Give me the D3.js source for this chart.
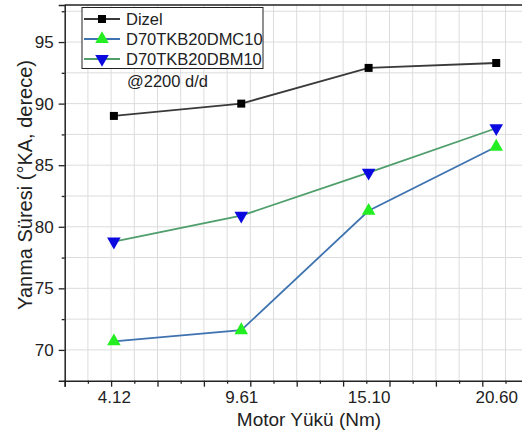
<!DOCTYPE html>
<html>
<head>
<meta charset="utf-8">
<script src="https://cdn.jsdelivr.net/npm/d3@7"></script>
<style>
body { margin: 0; background: #fff; }
svg { display: block; font-family: "Liberation Sans", Arial, sans-serif; }
</style>
</head>
<body>
<div id="chart"></div>
<script>
// Yanma suresi vs motor yuku @2200 d/d
var loads = [4.12, 9.61, 15.10, 20.60];
var loadLabels = ["4.12", "9.61", "15.10", "20.60"];
var dizel = [89.0, 90.0, 92.9, 93.3];
var dmc10 = [70.7, 71.6, 81.3, 86.5];
var dbm10 = [78.8, 80.9, 84.4, 88.0];
var seriesNames = ["Dizel", "D70TKB20DMC10", "D70TKB20DBM10"];
var yTicks = [70, 75, 80, 85, 90, 95];

var svgWidth = 522;
var svgHeight = 430;

var svg = d3.select("#chart")
    .append("svg")
    .attr("width", svgWidth)
    .attr("height", svgHeight);

var plot = { left: 64.7, right: 528.7, top: 5.1, bottom: 380.7 };

var xScale = d3.scaleLinear().domain([2, 22]).range([plot.left, plot.right]);
var yScale = d3.scaleLinear().domain([67.5, 98]).range([plot.bottom, plot.top]);

// grid
var gridX = d3.range(3, 23, 1);
var gridY = d3.range(70, 98.1, 2.5);
svg.append("g")
    .selectAll("line")
    .data(gridX)
    .join("line")
    .attr("x1", d => xScale(d)).attr("x2", d => xScale(d))
    .attr("y1", plot.top).attr("y2", plot.bottom)
    .attr("stroke", "#dcdcdc").attr("stroke-width", 1);
svg.append("g")
    .selectAll("line")
    .data(gridY)
    .join("line")
    .attr("x1", plot.left).attr("x2", plot.right)
    .attr("y1", d => yScale(d)).attr("y2", d => yScale(d))
    .attr("stroke", "#dcdcdc").attr("stroke-width", 1);

// frame top
svg.append("line")
    .attr("x1", plot.left).attr("x2", plot.right)
    .attr("y1", plot.top).attr("y2", plot.top)
    .attr("stroke", "#222").attr("stroke-width", 1.5);

// x axis: minor / major ticks without labels, labels at load values
var xMajor = d3.axisBottom(xScale).tickValues(d3.range(2, 23, 2)).tickSize(6).tickFormat("");
var xMinor = d3.axisBottom(xScale).tickValues(d3.range(3, 23, 2)).tickSize(3).tickFormat("");
var xLab = d3.axisBottom(xScale).tickValues(loads).tickSize(0).tickPadding(10)
    .tickFormat((d, i) => loadLabels[i]);

svg.append("g").attr("transform", `translate(0, ${plot.bottom})`).call(xMajor);
svg.append("g").attr("transform", `translate(0, ${plot.bottom})`).call(xMinor).select(".domain").remove();
svg.append("g").attr("transform", `translate(0, ${plot.bottom})`).call(xLab).select(".domain").remove();

// y axis
var yMajor = d3.axisLeft(yScale).tickValues(yTicks).tickSize(6).tickPadding(5);
var yMinor = d3.axisLeft(yScale).tickValues(d3.range(72.5, 98, 5)).tickSize(3).tickFormat("");
svg.append("g").attr("transform", `translate(${plot.left}, 0)`).call(yMajor);
svg.append("g").attr("transform", `translate(${plot.left}, 0)`).call(yMinor).select(".domain").remove();

svg.selectAll(".domain").attr("stroke", "#222").attr("stroke-width", 1.5);
svg.selectAll(".tick line").attr("stroke", "#222").attr("stroke-width", 1.3);
svg.selectAll(".tick text").attr("font-size", 17).attr("fill", "#222")
    .style("font-family", "'Liberation Sans', Arial, sans-serif");

// axis titles
svg.append("text")
    .attr("x", 309).attr("y", 426)
    .attr("text-anchor", "middle")
    .attr("font-size", 19).attr("fill", "#222")
    .text("Motor Yükü (Nm)");
svg.append("text")
    .attr("transform", "translate(32, 185) rotate(-90)")
    .attr("text-anchor", "middle")
    .attr("font-size", 20).attr("fill", "#222")
    .text("Yanma Süresi (°KA, derece)");

// series
var series = [
    { name: seriesNames[0], values: dizel, line: "#3a3a3a", fill: "#000", sym: d3.symbolSquare, size: 64, rot: 0 },
    { name: seriesNames[1], values: dmc10, line: "#3f73b0", fill: "#22ee22", sym: d3.symbolTriangle, size: 80, rot: 0 },
    { name: seriesNames[2], values: dbm10, line: "#4f9e6c", fill: "#0a0ae0", sym: d3.symbolTriangle, size: 80, rot: 180 }
];

var line = d3.line().x((d, i) => xScale(loads[i])).y(d => yScale(d));

series.forEach(function(s) {
    svg.append("path")
        .datum(s.values)
        .attr("d", line)
        .attr("fill", "none")
        .attr("stroke", s.line)
        .attr("stroke-width", 1.8);
    svg.append("g")
        .selectAll("path")
        .data(s.values)
        .join("path")
        .attr("d", d3.symbol().type(s.sym).size(s.size))
        .attr("transform", (d, i) => `translate(${xScale(loads[i])}, ${yScale(d)}) rotate(${s.rot})`)
        .attr("fill", s.fill);
});

// legend
var legend = svg.append("g");
legend.append("rect")
    .attr("x", 82).attr("y", 7.5)
    .attr("width", 181).attr("height", 61)
    .attr("fill", "#fff").attr("stroke", "#222").attr("stroke-width", 1);

series.forEach(function(s, i) {
    var ly = 19 + i * 20;
    legend.append("line")
        .attr("x1", 84).attr("x2", 120)
        .attr("y1", ly).attr("y2", ly)
        .attr("stroke", s.line).attr("stroke-width", 1.8);
    legend.append("path")
        .attr("d", d3.symbol().type(s.sym).size(s.size)())
        .attr("transform", `translate(102, ${ly}) rotate(${s.rot})`)
        .attr("fill", s.fill);
    legend.append("text")
        .attr("x", 126).attr("y", ly + 6)
        .attr("font-size", 16.5).attr("fill", "#222")
        .text(s.name);
});

svg.append("text")
    .attr("x", 127).attr("y", 87)
    .attr("font-size", 16.5).attr("fill", "#222")
    .text("@2200 d/d");
</script>
</body>
</html>
